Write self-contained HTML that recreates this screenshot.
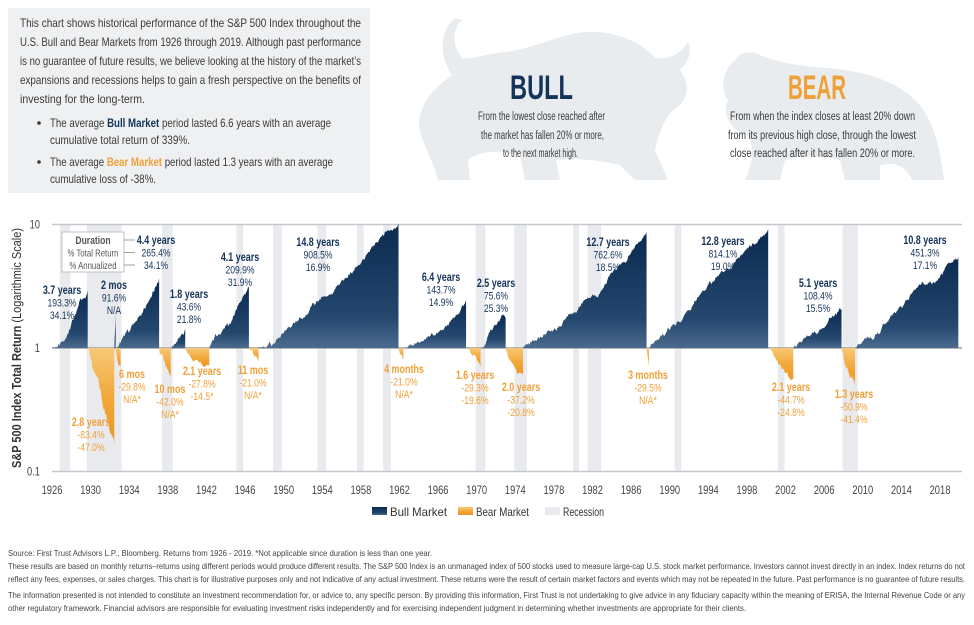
<!DOCTYPE html>
<html><head><meta charset="utf-8"><style>
html,body{margin:0;padding:0;background:#fff;}
svg{display:block;font-family:"Liberation Sans Narrow","Liberation Sans",sans-serif;}
</style></head><body>
<svg id="chart" width="974" height="625" viewBox="0 0 974 625" xmlns="http://www.w3.org/2000/svg">
<defs>
<linearGradient id="gBull" x1="0" y1="0" x2="0" y2="1"><stop offset="0" stop-color="#0b2a50"/><stop offset="0.75" stop-color="#24476e"/><stop offset="1" stop-color="#4b6a8d"/></linearGradient>
<linearGradient id="gBear" x1="0" y1="0" x2="0" y2="1"><stop offset="0" stop-color="#f7c878"/><stop offset="0.5" stop-color="#f2a93a"/><stop offset="1" stop-color="#ec9520"/></linearGradient>
</defs>
<rect x="8" y="8" width="362" height="185" fill="#eef0f2"/>
<g font-size="12" fill="#3a3a3a">
<text x="20" y="27" textLength="341" lengthAdjust="spacingAndGlyphs">This chart shows historical performance of the S&amp;P 500 Index throughout the</text>
<text x="20" y="46" textLength="341" lengthAdjust="spacingAndGlyphs">U.S. Bull and Bear Markets from 1926 through 2019. Although past performance</text>
<text x="20" y="65" textLength="341" lengthAdjust="spacingAndGlyphs">is no guarantee of future results, we believe looking at the history of the market’s</text>
<text x="20" y="84" textLength="341" lengthAdjust="spacingAndGlyphs">expansions and recessions helps to gain a fresh perspective on the benefits of</text>
<text x="20" y="103" textLength="125" lengthAdjust="spacingAndGlyphs">investing for the long-term.</text>
<circle cx="39" cy="123" r="1.8" fill="#3a3a3a"/>
<text x="50" y="127" textLength="281" lengthAdjust="spacingAndGlyphs">The average <tspan font-weight="bold" fill="#14335a">Bull Market</tspan> period lasted 6.6 years with an average</text>
<text x="50" y="144" textLength="140" lengthAdjust="spacingAndGlyphs">cumulative total return of 339%.</text>
<circle cx="39" cy="162" r="1.8" fill="#3a3a3a"/>
<text x="50" y="166" textLength="283" lengthAdjust="spacingAndGlyphs">The average <tspan font-weight="bold" fill="#f0a038">Bear Market</tspan> period lasted 1.3 years with an average</text>
<text x="50" y="183" textLength="106" lengthAdjust="spacingAndGlyphs">cumulative loss of -38%.</text>
</g>
<path fill="#e9ecef" d="M455,18 C440,30 438,55 452,75 C440,85 425,95 420,115 C415,135 430,150 438,180 L470,180 L468,160 C480,150 500,150 520,155 L525,180 L560,180 L556,160 C575,158 600,160 620,165 L635,180 L668,180 L655,150 C660,130 665,115 680,105 C690,95 688,80 680,70 C690,60 692,50 688,42 C680,55 668,60 655,58 C640,40 610,30 585,32 C560,34 530,50 505,52 C485,54 470,60 462,58 C452,45 452,30 462,20 Z"/>
<path fill="#e9ecef" d="M735,60 C722,70 720,90 728,100 C722,115 730,130 748,135 C755,150 752,165 745,180 L780,180 L785,160 C800,155 820,155 840,160 L845,180 L880,180 L880,165 C895,162 905,165 912,180 L944,180 C940,150 935,120 915,100 C895,80 860,70 825,68 C800,66 775,62 760,55 C750,50 740,52 735,60 Z"/>
<text x="510" y="99" font-size="34" font-weight="bold" fill="#14335a" textLength="63" lengthAdjust="spacingAndGlyphs">BULL</text>
<g font-size="11.5" fill="#3a3a3a">
<text x="478" y="120" textLength="127" lengthAdjust="spacingAndGlyphs">From the lowest close reached after</text>
<text x="481" y="139" textLength="123" lengthAdjust="spacingAndGlyphs">the market has fallen 20% or more,</text>
<text x="503" y="157" textLength="75" lengthAdjust="spacingAndGlyphs">to the next market high.</text>
</g>
<text x="788" y="99" font-size="34" font-weight="bold" fill="#f0a038" textLength="58" lengthAdjust="spacingAndGlyphs">BEAR</text>
<g font-size="11.5" fill="#3a3a3a">
<text x="730" y="120" textLength="185" lengthAdjust="spacingAndGlyphs">From when the index closes at least 20% down</text>
<text x="728" y="139" textLength="188" lengthAdjust="spacingAndGlyphs">from its previous high close, through the lowest</text>
<text x="730" y="157" textLength="185" lengthAdjust="spacingAndGlyphs">close reached after it has fallen 20% or more.</text>
</g>
<g id="plot"></g>
<g font-size="8.5" fill="#444">
<text x="8" y="556" textLength="424" lengthAdjust="spacingAndGlyphs">Source: First Trust Advisors L.P., Bloomberg. Returns from 1926 - 2019. *Not applicable since duration is less than one year.</text>
<text x="8" y="569" textLength="957" lengthAdjust="spacingAndGlyphs">These results are based on monthly returns–returns using different periods would produce different results. The S&amp;P 500 Index is an unmanaged index of 500 stocks used to measure large-cap U.S. stock market performance. Investors cannot invest directly in an index. Index returns do not</text>
<text x="8" y="582" textLength="957" lengthAdjust="spacingAndGlyphs">reflect any fees, expenses, or sales charges. This chart is for illustrative purposes only and not indicative of any actual investment. These returns were the result of certain market factors and events which may not be repeated in the future. Past performance is no guarantee of future results.</text>
<text x="8" y="598" textLength="957" lengthAdjust="spacingAndGlyphs">The information presented is not intended to constitute an investment recommendation for, or advice to, any specific person. By providing this information, First Trust is not undertaking to give advice in any fiduciary capacity within the meaning of ERISA, the Internal Revenue Code or any</text>
<text x="8" y="611" textLength="738" lengthAdjust="spacingAndGlyphs">other regulatory framework. Financial advisors are responsible for evaluating investment risks independently and for exercising independent judgment in determining whether investments are appropriate for their clients.</text>
</g>
</svg>
<script>
const recStart=[1926.8,1929.6,1937.4,1945.1,1948.9,1953.5,1957.6,1960.3,1969.9,1973.9,1980.0,1981.5,1990.5,2001.2,2007.9];
const recEnd=[1927.9,1933.2,1938.5,1945.8,1949.8,1954.4,1958.3,1961.1,1970.9,1975.2,1980.6,1982.9,1991.2,2001.9,2009.5];
const bullStart=[1926.0,1932.45,1932.7,1938.3,1942.3,1947.4,1962.5,1970.4,1974.8,1987.8,2002.8,2009.2];
const bullEnd=[1929.7,1932.6,1937.1,1939.8,1946.4,1961.9,1968.9,1973.0,1987.6,2000.2,2007.8,2019.9];
const bullPeak=[2.933,1.916,3.654,1.436,3.099,10.085,2.437,1.756,8.626,9.141,2.084,5.513];
const bearStart=[1929.7,1932.6,1937.1,1939.8,1946.4,1961.9,1968.9,1973.0,1987.6,2000.2,2007.8];
const bearEnd=[1932.45,1933.1,1938.3,1942.3,1947.4,1962.4,1970.4,1974.8,1987.85,2002.8,2009.2];
const bearTrough=[0.166,0.702,0.58,0.722,0.79,0.79,0.707,0.628,0.705,0.553,0.491];
const xTicks=[1926,1930,1934,1938,1942,1946,1950,1954,1958,1962,1966,1970,1974,1978,1982,1986,1990,1994,1998,2002,2006,2010,2014,2018];
const yTicks=[0.1,1,10];
const yTickLabels=["0.1","1","10"];
const bullLabels=[["3.7 years","193.3%","34.1%"],["2 mos","91.6%","N/A"],["4.4 years","265.4%","34.1%"],["1.8 years","43.6%","21.8%"],["4.1 years","209.9%","31.9%"],["14.8 years","908.5%","16.9%"],["6.4 years","143.7%","14.9%"],["2.5 years","75.6%","25.3%"],["12.7 years","762.6%","18.5%"],["12.8 years","814.1%","19.0%"],["5.1 years","108.4%","15.5%"],["10.8 years","451.3%","17.1%"]];
const bearLabels=[["2.8 years","-83.4%","-47.0%"],["6 mos","-29.8%","N/A*"],["10 mos","-42.0%","N/A*"],["2.1 years","-27.8%","-14.5*"],["11 mos","-21.0%","N/A*"],["4 months","-21.0%","N/A*"],["1.6 years","-29.3%","-19.6%"],["2.0 years","-37.2%","-20.8%"],["3 months","-29.5%","N/A*"],["2.1 years","-44.7%","-24.8%"],["1.3 years","-50.9%","-41.4%"]];
const bullLabelPos=[[62,294],[114,289],[156,244],[189,298],[240,261],[318,246],[441,281],[496,287],[608,246],[723,245],[818,287],[925,244]];
const bearLabelPos=[[91,426],[132,378],[170,393],[202,375],[253,374],[404,373],[475,379],[521,391],[648,379],[791,391],[854,398]];

const NS="http://www.w3.org/2000/svg";
const X0=52, PX=9.652, Y1=348, PY=123.5, SX=0.78;
function x(yr){return X0+(yr-1926)*PX;}
function y(v){return Y1-Math.log10(v)*PY;}
const plot=document.getElementById('plot');
function mk(tag,attrs,parent){const e=document.createElementNS(NS,tag);for(const k in attrs)e.setAttribute(k,attrs[k]);(parent||plot).appendChild(e);return e;}
function ntext(px,py,str,attrs,parent){attrs.transform='translate('+px+','+py+') scale('+SX+',1)';attrs.x=0;attrs.y=0;const t=mk('text',attrs,parent);t.textContent=str;return t;}
let seed=11;function rnd(){seed=(seed*16807)%2147483647;return seed/2147483647-0.5;}

recStart.forEach((s,i)=>{
  const r=mk('rect',{x:x(s),y:225,width:x(recEnd[i])-x(s),height:247,fill:'#e8eaed'});
  
  
});
yTicks.forEach((v,i)=>{
  const l=mk('line',{x1:X0,x2:962,y1:y(v),y2:y(v),stroke:v===1?'#9a9ea3':'#c4c7cb','stroke-width':1.5});
  
  
  const t=ntext(40,y(v)+4,yTickLabels[i],{'text-anchor':'end','font-size':12,fill:'#444'});
  
  
});
function segPath(s,e,endV,amp){
  const n=Math.max(3,Math.round((e-s)*24));
  const L=Math.log10(endV);const w=[0];
  for(let k=1;k<=n;k++)w.push(w[k-1]+rnd());
  let d='M'+x(s)+','+Y1;
  for(let k=0;k<=n;k++){
    const t=k/n;const br=w[k]-t*w[n];
    let lv=L*Math.pow(t,endV>1?1.1:0.9)+br*amp*Math.sqrt(Math.abs(L))/Math.sqrt(n)*2;
    if(endV>1&&lv<0)lv=Math.abs(lv)*0.3; if(endV<1&&lv>0)lv=-Math.abs(lv)*0.3;
    d+=' L'+x(s+(e-s)*t).toFixed(2)+','+(Y1-lv*PY).toFixed(2);
  }
  return d+' L'+x(e)+','+Y1+' Z';
}
bullStart.forEach((s,i)=>{
  const p=mk('path',{d:segPath(s,bullEnd[i],bullPeak[i],0.2),fill:'url(#gBull)'});
  
  
});
bearStart.forEach((s,i)=>{
  const p=mk('path',{d:segPath(s,bearEnd[i],bearTrough[i],0.2),fill:'url(#gBear)'});
  
  
});
xTicks.forEach(t=>{
  const e=ntext(x(t),494,String(t),{'text-anchor':'middle','font-size':12,fill:'#444'});
  
  
});
const yt=mk('text',{x:0,y:0,transform:'translate(21,348) rotate(-90)','text-anchor':'middle','font-size':12.5,fill:'#333',textLength:240,lengthAdjust:'spacingAndGlyphs'});
yt.innerHTML='<tspan font-weight="bold">S&amp;P 500 Index Total Return</tspan> (Logarithmic Scale)';


function lab(arr,pos,color,name){
  arr.forEach((a,i)=>{
    const g=mk('g',{'text-anchor':'middle',fill:color});
    
    
    a.forEach((s,j)=>{ntext(pos[i][0],pos[i][1]+j*12.5,s,{'font-size':j===0?11.5:11,'font-weight':j===0?'bold':'normal'},g);});
  });
}
lab(bullLabels,bullLabelPos,'#14335a','bull-label');
lab(bearLabels,bearLabelPos,'#f0a038','bear-label');
const kg=mk('g',{});


mk('rect',{x:62,y:232,width:62,height:40,fill:'#fff',stroke:'#bfc3c7','stroke-width':1},kg);
[['Duration',true],['% Total Return',false],['% Annualized',false]].forEach((r,j)=>{
  ntext(93,244+j*12.5,r[0],{'text-anchor':'middle','font-size':r[1]?11:10,'font-weight':r[1]?'bold':'normal',fill:'#555'},kg);
  mk('line',{x1:124,x2:135,y1:240+j*12.5,y2:240+j*12.5,stroke:'#888','stroke-width':0.8},kg);
});
const lg=mk('g',{});


[['Bull Market','url(#gBull)',372,57],['Bear Market','url(#gBear)',458,53],['Recession','#e8eaed',545,41]].forEach(r=>{
  const e=mk('g',{},lg);
  
  
  mk('rect',{x:r[2],y:507,width:15,height:8,fill:r[1]},e);
  const t=mk('text',{x:r[2]+18,y:516,'font-size':12,fill:'#333',textLength:r[3],lengthAdjust:'spacingAndGlyphs'},e);t.textContent=r[0];
});
</script>
</body></html>
